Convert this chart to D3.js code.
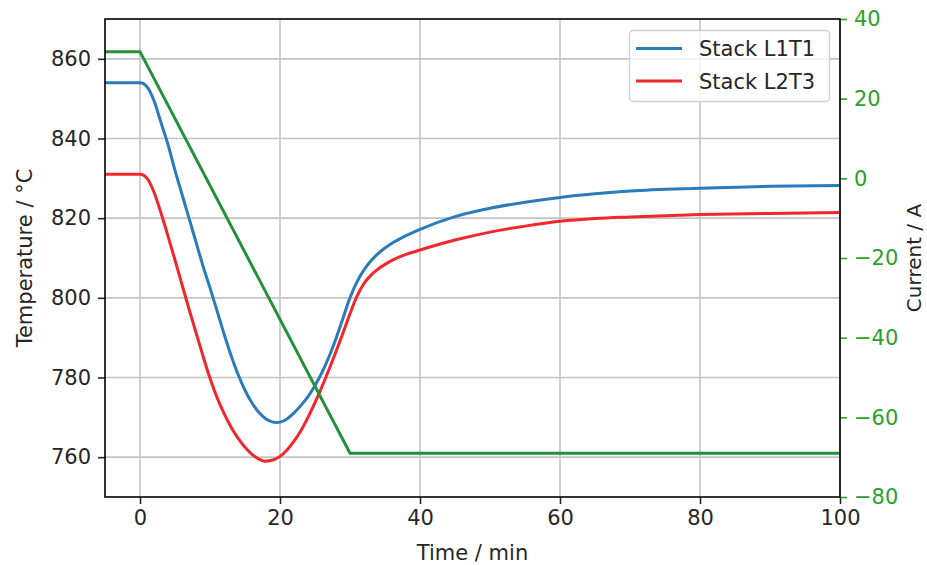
<!DOCTYPE html>
<html>
<head>
<meta charset="utf-8">
<script src="https://cdn.jsdelivr.net/npm/d3@7/dist/d3.min.js"></script>
<style>
  html, body { margin: 0; padding: 0; background: #fff; }
  svg { display: block; }
  text { font-family: "DejaVu Sans", sans-serif; }
</style>
</head>
<body>
<svg id="chart" width="927" height="565"></svg>
<script>
// ---- data ----
const seriesNames = ["Stack L1T1", "Stack L2T3"];
const timeL1T1 = [-5,0,1,2,3,4,5,6,7,8,9,10,11,12,13,14,15,16,17,18,19,19.5,20,21,22,23,24,25,26,27,28,29,30,31,32,33,34,35,36,38,40,45,50,55,60,65,70,80,90,100];
const tempL1T1 = [854,854,853,849.5,844,838.5,832,826,820,814,808,802.5,796.8,791.0,785.6,780.8,776.8,773.6,771.2,769.6,768.8,768.7,768.8,769.6,771.1,773.0,775.2,778.0,781.3,785.2,789.8,794.9,800,804.0,807.0,809.3,811.1,812.5,813.7,815.6,817.2,820.4,822.5,824,825.2,826.1,826.8,827.5,828,828.2];
const timeL2T3 = [-5,0,1,2,3,4,5,6,7,8,9,10,11,12,13,14,15,16,17,17.8,19,20,21,22,23,24,25,26,27,28,29,30,31,32,33,34,35,36,38,40,45,50,55,60,65,70,80,90,100];
const tempL2T3 = [831,831,830,826.5,821.3,815.5,809.5,803.3,797.2,791.3,785.4,779.8,775.0,771.0,767.6,764.8,762.5,760.7,759.5,759.0,759.3,760.2,761.8,764.0,766.7,770.0,773.7,777.7,782.0,786.5,791.2,796.0,800.4,803.6,805.7,807.2,808.4,809.4,810.9,812.0,814.5,816.5,818,819.2,819.9,820.3,820.9,821.2,821.4];
const timeCurrent = [-5, 0, 30, 100];
const current = [31.8, 31.8, -69, -69];
const xTicks = [0, 20, 40, 60, 80, 100];
const yTicksLeft = [760, 780, 800, 820, 840, 860];
const yTicksRight = [-80, -60, -40, -20, 0, 20, 40];

// ---- layout ----
const L = 105, R = 840, T = 19, B = 497;
const fs = 21;
const svg = d3.select("#chart");
const x = d3.scaleLinear().domain([-5, 100]).range([L, R]);
const yL = d3.scaleLinear().domain([750, 870]).range([B, T]);
const yR = d3.scaleLinear().domain([-80, 40]).range([B, T]);

const colBlue = "#2a7bbb", colRed = "#f0282d", colGreen = "#23903a", tickGreen = "#2ca02c";
const textCol = "#262626";

// grid
const grid = svg.append("g");
grid.selectAll("line.v").data(xTicks).join("line")
  .attr("x1", d => x(d)).attr("x2", d => x(d)).attr("y1", T).attr("y2", B)
  .attr("stroke", "#c4c4c4").attr("stroke-width", 1.6);
grid.selectAll("line.h").data(yTicksLeft).join("line")
  .attr("x1", L).attr("x2", R).attr("y1", d => yL(d)).attr("y2", d => yL(d))
  .attr("stroke", "#c4c4c4").attr("stroke-width", 1.6);

// lines
svg.append("clipPath").attr("id", "clip").append("rect")
  .attr("x", L).attr("y", T).attr("width", R - L).attr("height", B - T);
const plot = svg.append("g").attr("clip-path", "url(#clip)");
const mkLine = (ts, vs, ys, curve) => d3.line().x((d, i) => x(ts[i])).y((d, i) => ys(vs[i])).curve(curve)(vs);
plot.append("path").attr("d", mkLine(timeL1T1, tempL1T1, yL, d3.curveMonotoneX))
  .attr("fill", "none").attr("stroke", colBlue).attr("stroke-width", 3);
plot.append("path").attr("d", mkLine(timeL2T3, tempL2T3, yL, d3.curveMonotoneX))
  .attr("fill", "none").attr("stroke", colRed).attr("stroke-width", 3);
plot.append("path").attr("d", mkLine(timeCurrent, current, yR, d3.curveLinear))
  .attr("fill", "none").attr("stroke", colGreen).attr("stroke-width", 3);

// axes
const styleAxis = (g, color) => {
  g.select(".domain").remove();
  g.selectAll(".tick line").attr("stroke", color).attr("stroke-width", 1.6);
  g.selectAll(".tick text").attr("fill", color).attr("font-size", fs).attr("font-family", "DejaVu Sans");
};
const fmt = d => (d < 0 ? "\u2212" + Math.abs(d) : String(d));
svg.append("g").attr("transform", `translate(0,${B})`)
  .call(d3.axisBottom(x).tickValues(xTicks).tickSize(7).tickPadding(6).tickFormat(fmt))
  .call(g => styleAxis(g, textCol));
svg.append("g").attr("transform", `translate(${L},0)`)
  .call(d3.axisLeft(yL).tickValues(yTicksLeft).tickSize(7).tickPadding(7).tickFormat(fmt))
  .call(g => styleAxis(g, textCol));
svg.append("g").attr("transform", `translate(${R},0)`)
  .call(d3.axisRight(yR).tickValues(yTicksRight).tickSize(7).tickPadding(7).tickFormat(fmt))
  .call(g => styleAxis(g, tickGreen));

// spines
svg.append("rect").attr("x", L).attr("y", T).attr("width", R - L).attr("height", B - T)
  .attr("fill", "none").attr("stroke", "#000").attr("stroke-width", 1.6);

// axis labels
svg.append("text").attr("x", (L + R) / 2).attr("y", 560).attr("text-anchor", "middle")
  .attr("font-size", fs).attr("fill", textCol).text("Time / min");
svg.append("text").attr("transform", `translate(32,${(T + B) / 2}) rotate(-90)`).attr("text-anchor", "middle")
  .attr("font-size", fs).attr("fill", textCol).text("Temperature / °C");
svg.append("text").attr("transform", `translate(921,${(T + B) / 2}) rotate(-90)`).attr("text-anchor", "middle")
  .attr("font-size", 20).attr("fill", textCol).text("Current / A");

// legend
const lg = svg.append("g");
lg.append("rect").attr("x", 629.5).attr("y", 30.5).attr("width", 200).attr("height", 71)
  .attr("rx", 4).attr("fill", "#fff").attr("fill-opacity", 0.8).attr("stroke", "#d0d0d0").attr("stroke-width", 1.4);
const legCols = [colBlue, colRed];
seriesNames.forEach((n, i) => {
  const cy = 48.5 + i * 32.5;
  lg.append("line").attr("x1", 636).attr("x2", 682).attr("y1", cy).attr("y2", cy)
    .attr("stroke", legCols[i]).attr("stroke-width", 3);
  lg.append("text").attr("x", 699).attr("y", cy + 7.5).attr("font-size", fs).attr("fill", textCol).text(n);
});
</script>
</body>
</html>
